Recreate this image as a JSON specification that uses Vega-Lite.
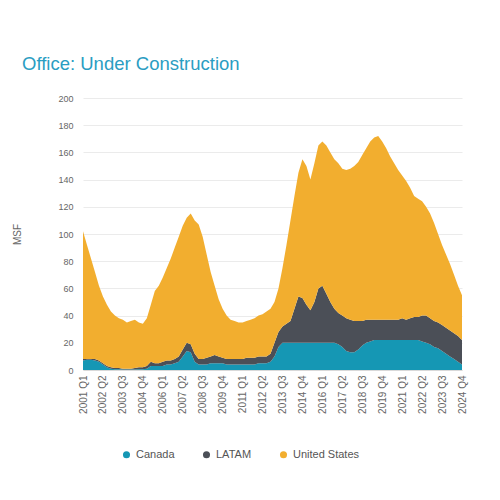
{
  "$schema": "https://vega.github.io/schema/vega-lite/v6.json",
  "description": "Office: Under Construction, stacked area by region (MSF).",
  "autosize": "none",
  "width": 379,
  "height": 272,
  "padding": {"left": 83, "top": 98, "right": 38, "bottom": 130},
  "background": "white",
  "title": {
    "text": "Office: Under Construction",
    "anchor": "start",
    "frame": "group",
    "dx": -61,
    "offset": 21,
    "fontSize": 18.5,
    "fontWeight": "normal",
    "font": "Liberation Sans",
    "color": "#2a9dc2"
  },
  "data": {
    "values": [
      {"quarter": "2001 Q1", "region": "Canada", "msf": 7}, {"quarter": "2001 Q1", "region": "LATAM", "msf": 1}, {"quarter": "2001 Q1", "region": "United States", "msf": 94},
      {"quarter": "2001 Q2", "region": "Canada", "msf": 7.5}, {"quarter": "2001 Q2", "region": "LATAM", "msf": 0.5}, {"quarter": "2001 Q2", "region": "United States", "msf": 84},
      {"quarter": "2001 Q3", "region": "Canada", "msf": 7.5}, {"quarter": "2001 Q3", "region": "LATAM", "msf": 0.5}, {"quarter": "2001 Q3", "region": "United States", "msf": 74},
      {"quarter": "2001 Q4", "region": "Canada", "msf": 7}, {"quarter": "2001 Q4", "region": "LATAM", "msf": 1}, {"quarter": "2001 Q4", "region": "United States", "msf": 64},
      {"quarter": "2002 Q1", "region": "Canada", "msf": 6}, {"quarter": "2002 Q1", "region": "LATAM", "msf": 1}, {"quarter": "2002 Q1", "region": "United States", "msf": 55},
      {"quarter": "2002 Q2", "region": "Canada", "msf": 4}, {"quarter": "2002 Q2", "region": "LATAM", "msf": 1}, {"quarter": "2002 Q2", "region": "United States", "msf": 49},
      {"quarter": "2002 Q3", "region": "Canada", "msf": 2}, {"quarter": "2002 Q3", "region": "LATAM", "msf": 1}, {"quarter": "2002 Q3", "region": "United States", "msf": 45},
      {"quarter": "2002 Q4", "region": "Canada", "msf": 1}, {"quarter": "2002 Q4", "region": "LATAM", "msf": 1}, {"quarter": "2002 Q4", "region": "United States", "msf": 41},
      {"quarter": "2003 Q1", "region": "Canada", "msf": 0.5}, {"quarter": "2003 Q1", "region": "LATAM", "msf": 1}, {"quarter": "2003 Q1", "region": "United States", "msf": 38.5},
      {"quarter": "2003 Q2", "region": "Canada", "msf": 0.5}, {"quarter": "2003 Q2", "region": "LATAM", "msf": 1}, {"quarter": "2003 Q2", "region": "United States", "msf": 36.5},
      {"quarter": "2003 Q3", "region": "Canada", "msf": 0.3}, {"quarter": "2003 Q3", "region": "LATAM", "msf": 0.7}, {"quarter": "2003 Q3", "region": "United States", "msf": 36},
      {"quarter": "2003 Q4", "region": "Canada", "msf": 0.3}, {"quarter": "2003 Q4", "region": "LATAM", "msf": 0.7}, {"quarter": "2003 Q4", "region": "United States", "msf": 34},
      {"quarter": "2004 Q1", "region": "Canada", "msf": 0.3}, {"quarter": "2004 Q1", "region": "LATAM", "msf": 0.7}, {"quarter": "2004 Q1", "region": "United States", "msf": 35},
      {"quarter": "2004 Q2", "region": "Canada", "msf": 0.3}, {"quarter": "2004 Q2", "region": "LATAM", "msf": 1.2}, {"quarter": "2004 Q2", "region": "United States", "msf": 35.5},
      {"quarter": "2004 Q3", "region": "Canada", "msf": 0.5}, {"quarter": "2004 Q3", "region": "LATAM", "msf": 1.5}, {"quarter": "2004 Q3", "region": "United States", "msf": 33},
      {"quarter": "2004 Q4", "region": "Canada", "msf": 0.5}, {"quarter": "2004 Q4", "region": "LATAM", "msf": 1.5}, {"quarter": "2004 Q4", "region": "United States", "msf": 32},
      {"quarter": "2005 Q1", "region": "Canada", "msf": 1}, {"quarter": "2005 Q1", "region": "LATAM", "msf": 2}, {"quarter": "2005 Q1", "region": "United States", "msf": 35},
      {"quarter": "2005 Q2", "region": "Canada", "msf": 3}, {"quarter": "2005 Q2", "region": "LATAM", "msf": 3}, {"quarter": "2005 Q2", "region": "United States", "msf": 42},
      {"quarter": "2005 Q3", "region": "Canada", "msf": 3}, {"quarter": "2005 Q3", "region": "LATAM", "msf": 2}, {"quarter": "2005 Q3", "region": "United States", "msf": 53},
      {"quarter": "2005 Q4", "region": "Canada", "msf": 3}, {"quarter": "2005 Q4", "region": "LATAM", "msf": 2}, {"quarter": "2005 Q4", "region": "United States", "msf": 57},
      {"quarter": "2006 Q1", "region": "Canada", "msf": 3}, {"quarter": "2006 Q1", "region": "LATAM", "msf": 3}, {"quarter": "2006 Q1", "region": "United States", "msf": 62},
      {"quarter": "2006 Q2", "region": "Canada", "msf": 4}, {"quarter": "2006 Q2", "region": "LATAM", "msf": 3}, {"quarter": "2006 Q2", "region": "United States", "msf": 68},
      {"quarter": "2006 Q3", "region": "Canada", "msf": 4}, {"quarter": "2006 Q3", "region": "LATAM", "msf": 3}, {"quarter": "2006 Q3", "region": "United States", "msf": 75},
      {"quarter": "2006 Q4", "region": "Canada", "msf": 5}, {"quarter": "2006 Q4", "region": "LATAM", "msf": 3}, {"quarter": "2006 Q4", "region": "United States", "msf": 82},
      {"quarter": "2007 Q1", "region": "Canada", "msf": 6}, {"quarter": "2007 Q1", "region": "LATAM", "msf": 4}, {"quarter": "2007 Q1", "region": "United States", "msf": 88},
      {"quarter": "2007 Q2", "region": "Canada", "msf": 10}, {"quarter": "2007 Q2", "region": "LATAM", "msf": 5}, {"quarter": "2007 Q2", "region": "United States", "msf": 91},
      {"quarter": "2007 Q3", "region": "Canada", "msf": 14}, {"quarter": "2007 Q3", "region": "LATAM", "msf": 6}, {"quarter": "2007 Q3", "region": "United States", "msf": 92},
      {"quarter": "2007 Q4", "region": "Canada", "msf": 13}, {"quarter": "2007 Q4", "region": "LATAM", "msf": 6}, {"quarter": "2007 Q4", "region": "United States", "msf": 96},
      {"quarter": "2008 Q1", "region": "Canada", "msf": 6}, {"quarter": "2008 Q1", "region": "LATAM", "msf": 6}, {"quarter": "2008 Q1", "region": "United States", "msf": 98},
      {"quarter": "2008 Q2", "region": "Canada", "msf": 4}, {"quarter": "2008 Q2", "region": "LATAM", "msf": 4}, {"quarter": "2008 Q2", "region": "United States", "msf": 99},
      {"quarter": "2008 Q3", "region": "Canada", "msf": 4}, {"quarter": "2008 Q3", "region": "LATAM", "msf": 4}, {"quarter": "2008 Q3", "region": "United States", "msf": 90},
      {"quarter": "2008 Q4", "region": "Canada", "msf": 4}, {"quarter": "2008 Q4", "region": "LATAM", "msf": 5}, {"quarter": "2008 Q4", "region": "United States", "msf": 76},
      {"quarter": "2009 Q1", "region": "Canada", "msf": 5}, {"quarter": "2009 Q1", "region": "LATAM", "msf": 5}, {"quarter": "2009 Q1", "region": "United States", "msf": 62},
      {"quarter": "2009 Q2", "region": "Canada", "msf": 5}, {"quarter": "2009 Q2", "region": "LATAM", "msf": 6}, {"quarter": "2009 Q2", "region": "United States", "msf": 51},
      {"quarter": "2009 Q3", "region": "Canada", "msf": 5}, {"quarter": "2009 Q3", "region": "LATAM", "msf": 5}, {"quarter": "2009 Q3", "region": "United States", "msf": 42},
      {"quarter": "2009 Q4", "region": "Canada", "msf": 5}, {"quarter": "2009 Q4", "region": "LATAM", "msf": 4}, {"quarter": "2009 Q4", "region": "United States", "msf": 36},
      {"quarter": "2010 Q1", "region": "Canada", "msf": 4}, {"quarter": "2010 Q1", "region": "LATAM", "msf": 4}, {"quarter": "2010 Q1", "region": "United States", "msf": 32},
      {"quarter": "2010 Q2", "region": "Canada", "msf": 4}, {"quarter": "2010 Q2", "region": "LATAM", "msf": 4}, {"quarter": "2010 Q2", "region": "United States", "msf": 29},
      {"quarter": "2010 Q3", "region": "Canada", "msf": 4}, {"quarter": "2010 Q3", "region": "LATAM", "msf": 4}, {"quarter": "2010 Q3", "region": "United States", "msf": 28},
      {"quarter": "2010 Q4", "region": "Canada", "msf": 4}, {"quarter": "2010 Q4", "region": "LATAM", "msf": 4}, {"quarter": "2010 Q4", "region": "United States", "msf": 27},
      {"quarter": "2011 Q1", "region": "Canada", "msf": 4}, {"quarter": "2011 Q1", "region": "LATAM", "msf": 4}, {"quarter": "2011 Q1", "region": "United States", "msf": 27},
      {"quarter": "2011 Q2", "region": "Canada", "msf": 4}, {"quarter": "2011 Q2", "region": "LATAM", "msf": 5}, {"quarter": "2011 Q2", "region": "United States", "msf": 27},
      {"quarter": "2011 Q3", "region": "Canada", "msf": 4}, {"quarter": "2011 Q3", "region": "LATAM", "msf": 5}, {"quarter": "2011 Q3", "region": "United States", "msf": 28},
      {"quarter": "2011 Q4", "region": "Canada", "msf": 4}, {"quarter": "2011 Q4", "region": "LATAM", "msf": 5}, {"quarter": "2011 Q4", "region": "United States", "msf": 29},
      {"quarter": "2012 Q1", "region": "Canada", "msf": 5}, {"quarter": "2012 Q1", "region": "LATAM", "msf": 5}, {"quarter": "2012 Q1", "region": "United States", "msf": 30},
      {"quarter": "2012 Q2", "region": "Canada", "msf": 5}, {"quarter": "2012 Q2", "region": "LATAM", "msf": 5}, {"quarter": "2012 Q2", "region": "United States", "msf": 31},
      {"quarter": "2012 Q3", "region": "Canada", "msf": 5}, {"quarter": "2012 Q3", "region": "LATAM", "msf": 5}, {"quarter": "2012 Q3", "region": "United States", "msf": 33},
      {"quarter": "2012 Q4", "region": "Canada", "msf": 6}, {"quarter": "2012 Q4", "region": "LATAM", "msf": 6}, {"quarter": "2012 Q4", "region": "United States", "msf": 33},
      {"quarter": "2013 Q1", "region": "Canada", "msf": 10}, {"quarter": "2013 Q1", "region": "LATAM", "msf": 10}, {"quarter": "2013 Q1", "region": "United States", "msf": 30},
      {"quarter": "2013 Q2", "region": "Canada", "msf": 17}, {"quarter": "2013 Q2", "region": "LATAM", "msf": 11}, {"quarter": "2013 Q2", "region": "United States", "msf": 32},
      {"quarter": "2013 Q3", "region": "Canada", "msf": 20}, {"quarter": "2013 Q3", "region": "LATAM", "msf": 12}, {"quarter": "2013 Q3", "region": "United States", "msf": 43},
      {"quarter": "2013 Q4", "region": "Canada", "msf": 20}, {"quarter": "2013 Q4", "region": "LATAM", "msf": 14}, {"quarter": "2013 Q4", "region": "United States", "msf": 58},
      {"quarter": "2014 Q1", "region": "Canada", "msf": 20}, {"quarter": "2014 Q1", "region": "LATAM", "msf": 16}, {"quarter": "2014 Q1", "region": "United States", "msf": 74},
      {"quarter": "2014 Q2", "region": "Canada", "msf": 20}, {"quarter": "2014 Q2", "region": "LATAM", "msf": 25}, {"quarter": "2014 Q2", "region": "United States", "msf": 83},
      {"quarter": "2014 Q3", "region": "Canada", "msf": 20}, {"quarter": "2014 Q3", "region": "LATAM", "msf": 34}, {"quarter": "2014 Q3", "region": "United States", "msf": 91},
      {"quarter": "2014 Q4", "region": "Canada", "msf": 20}, {"quarter": "2014 Q4", "region": "LATAM", "msf": 33}, {"quarter": "2014 Q4", "region": "United States", "msf": 102},
      {"quarter": "2015 Q1", "region": "Canada", "msf": 20}, {"quarter": "2015 Q1", "region": "LATAM", "msf": 28}, {"quarter": "2015 Q1", "region": "United States", "msf": 102},
      {"quarter": "2015 Q2", "region": "Canada", "msf": 20}, {"quarter": "2015 Q2", "region": "LATAM", "msf": 24}, {"quarter": "2015 Q2", "region": "United States", "msf": 96},
      {"quarter": "2015 Q3", "region": "Canada", "msf": 20}, {"quarter": "2015 Q3", "region": "LATAM", "msf": 30}, {"quarter": "2015 Q3", "region": "United States", "msf": 102},
      {"quarter": "2015 Q4", "region": "Canada", "msf": 20}, {"quarter": "2015 Q4", "region": "LATAM", "msf": 40}, {"quarter": "2015 Q4", "region": "United States", "msf": 105},
      {"quarter": "2016 Q1", "region": "Canada", "msf": 20}, {"quarter": "2016 Q1", "region": "LATAM", "msf": 42}, {"quarter": "2016 Q1", "region": "United States", "msf": 106},
      {"quarter": "2016 Q2", "region": "Canada", "msf": 20}, {"quarter": "2016 Q2", "region": "LATAM", "msf": 36}, {"quarter": "2016 Q2", "region": "United States", "msf": 109},
      {"quarter": "2016 Q3", "region": "Canada", "msf": 20}, {"quarter": "2016 Q3", "region": "LATAM", "msf": 30}, {"quarter": "2016 Q3", "region": "United States", "msf": 110},
      {"quarter": "2016 Q4", "region": "Canada", "msf": 20}, {"quarter": "2016 Q4", "region": "LATAM", "msf": 25}, {"quarter": "2016 Q4", "region": "United States", "msf": 110},
      {"quarter": "2017 Q1", "region": "Canada", "msf": 19}, {"quarter": "2017 Q1", "region": "LATAM", "msf": 23}, {"quarter": "2017 Q1", "region": "United States", "msf": 110},
      {"quarter": "2017 Q2", "region": "Canada", "msf": 17}, {"quarter": "2017 Q2", "region": "LATAM", "msf": 23}, {"quarter": "2017 Q2", "region": "United States", "msf": 108},
      {"quarter": "2017 Q3", "region": "Canada", "msf": 14}, {"quarter": "2017 Q3", "region": "LATAM", "msf": 24}, {"quarter": "2017 Q3", "region": "United States", "msf": 109},
      {"quarter": "2017 Q4", "region": "Canada", "msf": 13}, {"quarter": "2017 Q4", "region": "LATAM", "msf": 24}, {"quarter": "2017 Q4", "region": "United States", "msf": 111},
      {"quarter": "2018 Q1", "region": "Canada", "msf": 13}, {"quarter": "2018 Q1", "region": "LATAM", "msf": 23}, {"quarter": "2018 Q1", "region": "United States", "msf": 114},
      {"quarter": "2018 Q2", "region": "Canada", "msf": 15}, {"quarter": "2018 Q2", "region": "LATAM", "msf": 21}, {"quarter": "2018 Q2", "region": "United States", "msf": 117},
      {"quarter": "2018 Q3", "region": "Canada", "msf": 18}, {"quarter": "2018 Q3", "region": "LATAM", "msf": 18}, {"quarter": "2018 Q3", "region": "United States", "msf": 122},
      {"quarter": "2018 Q4", "region": "Canada", "msf": 20}, {"quarter": "2018 Q4", "region": "LATAM", "msf": 17}, {"quarter": "2018 Q4", "region": "United States", "msf": 126},
      {"quarter": "2019 Q1", "region": "Canada", "msf": 21}, {"quarter": "2019 Q1", "region": "LATAM", "msf": 16}, {"quarter": "2019 Q1", "region": "United States", "msf": 131},
      {"quarter": "2019 Q2", "region": "Canada", "msf": 22}, {"quarter": "2019 Q2", "region": "LATAM", "msf": 15}, {"quarter": "2019 Q2", "region": "United States", "msf": 134},
      {"quarter": "2019 Q3", "region": "Canada", "msf": 22}, {"quarter": "2019 Q3", "region": "LATAM", "msf": 15}, {"quarter": "2019 Q3", "region": "United States", "msf": 135},
      {"quarter": "2019 Q4", "region": "Canada", "msf": 22}, {"quarter": "2019 Q4", "region": "LATAM", "msf": 15}, {"quarter": "2019 Q4", "region": "United States", "msf": 131},
      {"quarter": "2020 Q1", "region": "Canada", "msf": 22}, {"quarter": "2020 Q1", "region": "LATAM", "msf": 15}, {"quarter": "2020 Q1", "region": "United States", "msf": 126},
      {"quarter": "2020 Q2", "region": "Canada", "msf": 22}, {"quarter": "2020 Q2", "region": "LATAM", "msf": 15}, {"quarter": "2020 Q2", "region": "United States", "msf": 120},
      {"quarter": "2020 Q3", "region": "Canada", "msf": 22}, {"quarter": "2020 Q3", "region": "LATAM", "msf": 15}, {"quarter": "2020 Q3", "region": "United States", "msf": 115},
      {"quarter": "2020 Q4", "region": "Canada", "msf": 22}, {"quarter": "2020 Q4", "region": "LATAM", "msf": 15}, {"quarter": "2020 Q4", "region": "United States", "msf": 110},
      {"quarter": "2021 Q1", "region": "Canada", "msf": 22}, {"quarter": "2021 Q1", "region": "LATAM", "msf": 16}, {"quarter": "2021 Q1", "region": "United States", "msf": 105},
      {"quarter": "2021 Q2", "region": "Canada", "msf": 22}, {"quarter": "2021 Q2", "region": "LATAM", "msf": 15}, {"quarter": "2021 Q2", "region": "United States", "msf": 102},
      {"quarter": "2021 Q3", "region": "Canada", "msf": 22}, {"quarter": "2021 Q3", "region": "LATAM", "msf": 16}, {"quarter": "2021 Q3", "region": "United States", "msf": 96},
      {"quarter": "2021 Q4", "region": "Canada", "msf": 22}, {"quarter": "2021 Q4", "region": "LATAM", "msf": 17}, {"quarter": "2021 Q4", "region": "United States", "msf": 89},
      {"quarter": "2022 Q1", "region": "Canada", "msf": 22}, {"quarter": "2022 Q1", "region": "LATAM", "msf": 17}, {"quarter": "2022 Q1", "region": "United States", "msf": 87},
      {"quarter": "2022 Q2", "region": "Canada", "msf": 21}, {"quarter": "2022 Q2", "region": "LATAM", "msf": 19}, {"quarter": "2022 Q2", "region": "United States", "msf": 84},
      {"quarter": "2022 Q3", "region": "Canada", "msf": 20}, {"quarter": "2022 Q3", "region": "LATAM", "msf": 20}, {"quarter": "2022 Q3", "region": "United States", "msf": 80},
      {"quarter": "2022 Q4", "region": "Canada", "msf": 19}, {"quarter": "2022 Q4", "region": "LATAM", "msf": 19}, {"quarter": "2022 Q4", "region": "United States", "msf": 77},
      {"quarter": "2023 Q1", "region": "Canada", "msf": 17}, {"quarter": "2023 Q1", "region": "LATAM", "msf": 19}, {"quarter": "2023 Q1", "region": "United States", "msf": 72},
      {"quarter": "2023 Q2", "region": "Canada", "msf": 16}, {"quarter": "2023 Q2", "region": "LATAM", "msf": 19}, {"quarter": "2023 Q2", "region": "United States", "msf": 65},
      {"quarter": "2023 Q3", "region": "Canada", "msf": 14}, {"quarter": "2023 Q3", "region": "LATAM", "msf": 19}, {"quarter": "2023 Q3", "region": "United States", "msf": 59},
      {"quarter": "2023 Q4", "region": "Canada", "msf": 12}, {"quarter": "2023 Q4", "region": "LATAM", "msf": 19}, {"quarter": "2023 Q4", "region": "United States", "msf": 54},
      {"quarter": "2024 Q1", "region": "Canada", "msf": 10}, {"quarter": "2024 Q1", "region": "LATAM", "msf": 19}, {"quarter": "2024 Q1", "region": "United States", "msf": 49},
      {"quarter": "2024 Q2", "region": "Canada", "msf": 8}, {"quarter": "2024 Q2", "region": "LATAM", "msf": 19}, {"quarter": "2024 Q2", "region": "United States", "msf": 43},
      {"quarter": "2024 Q3", "region": "Canada", "msf": 6}, {"quarter": "2024 Q3", "region": "LATAM", "msf": 19}, {"quarter": "2024 Q3", "region": "United States", "msf": 37},
      {"quarter": "2024 Q4", "region": "Canada", "msf": 4}, {"quarter": "2024 Q4", "region": "LATAM", "msf": 18}, {"quarter": "2024 Q4", "region": "United States", "msf": 33}
    ]
  },
  "mark": {"type": "area", "interpolate": "linear"},
  "encoding": {
    "x": {
      "field": "quarter",
      "type": "ordinal",
      "sort": null,
      "scale": {"type": "point", "padding": 0},
      "axis": {
        "title": null,
        "values": ["2001 Q1", "2002 Q2", "2003 Q3", "2004 Q4", "2006 Q1", "2007 Q2", "2008 Q3", "2009 Q4", "2011 Q1", "2012 Q2", "2013 Q3", "2014 Q4", "2016 Q1", "2017 Q2", "2018 Q3", "2019 Q4", "2021 Q1", "2022 Q2", "2023 Q3", "2024 Q4"],
        "labelAngle": -90,
        "labelFontSize": 10,
        "labelColor": "#666666",
        "labelPadding": 5,
        "ticks": false,
        "domainColor": "#d9d9d9"
      }
    },
    "y": {
      "field": "msf",
      "type": "quantitative",
      "stack": "zero",
      "scale": {"domain": [0, 200]},
      "axis": {
        "title": "MSF",
        "titleX": -61,
        "titleFontSize": 10,
        "titleFontWeight": "normal",
        "titleColor": "#666666",
        "values": [0, 20, 40, 60, 80, 100, 120, 140, 160, 180, 200],
        "labelFontSize": 9,
        "labelColor": "#666666",
        "labelPadding": 10,
        "ticks": false,
        "domain": false,
        "gridColor": "#ebebeb"
      }
    },
    "color": {
      "field": "region",
      "type": "nominal",
      "scale": {
        "domain": ["Canada", "LATAM", "United States"],
        "range": ["#1597b4", "#4b4f57", "#f2ae2f"]
      },
      "legend": {
        "title": null,
        "orient": "none",
        "direction": "horizontal",
        "legendX": 38,
        "legendY": 351,
        "symbolType": "circle",
        "symbolSize": 50,
        "labelFontSize": 11,
        "labelColor": "#555555",
        "columnPadding": 26
      }
    },
    "order": {"field": "region", "sort": "ascending"}
  },
  "config": {
    "font": "Liberation Sans",
    "view": {"stroke": null}
  }
}
